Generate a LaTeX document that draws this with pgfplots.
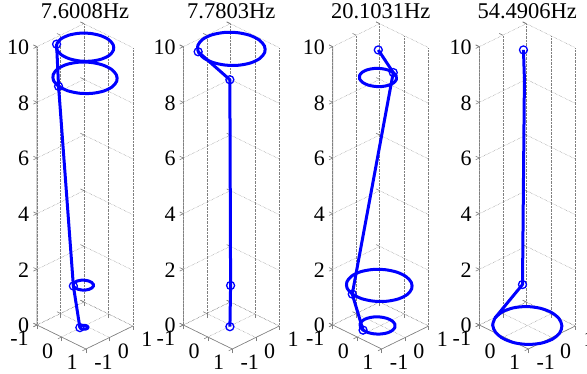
\documentclass[border=0pt]{standalone}
\usepackage{pgfplots}
\pgfplotsset{compat=1.18}
\usepackage{fontspec}
\setmainfont{Liberation Serif}
\definecolor{axgray}{RGB}{128,128,128}
\definecolor{mblue}{RGB}{0,0,255}
\pgfplotsset{
 modeax/.style={
   anchor=origin,
   x={(24.5pt,-12pt)}, y={(23.5pt,11.5pt)}, z={(0pt,27.83pt)},
   xmin=-1,xmax=1,ymin=-1,ymax=1,zmin=0,zmax=10,
   xtick={-1,0,1}, ytick={-1,0,1}, ztick={0,2,4,6,8,10},
   xticklabels={-1,0,1}, yticklabels={-1,0,1}, zticklabels={0,2,4,6,8,10},
   xtick pos=left, ytick pos=left, ztick pos=left,
   grid=major, major grid style={densely dotted, gray, line width=0.5pt},
   axis line style={draw=none},
   tick align=outside, major tick length=4pt, tick style={axgray, line width=0.6pt},
   tick label style={font=\fontsize{22}{24}\selectfont, inner sep=0pt},
   zticklabel style={anchor=east, xshift=-4pt, yshift=1pt},
   xticklabel style={anchor=north east, xshift=-4.5pt, yshift=-4.5pt},
   yticklabel style={anchor=north west, xshift=4.5pt, yshift=-4.5pt},
   title style={font=\fontsize{22.5}{26}\selectfont, anchor=base, yshift=-1pt},
   clip=false,
 },
 shp/.style={mblue, line width=3pt, no markers, line join=round},
 orb/.style={mblue, line width=3pt, smooth, no markers},
 nod/.style={mblue, only marks, mark=o, mark size=4pt, mark options={line width=1.3pt, solid}},
}
\newcommand{\axlines}{\draw[axgray, line width=0.6pt] (axis cs:-1,-1,10) -- (axis cs:-1,-1,0) -- (axis cs:1,-1,0) -- (axis cs:1,1,0);}
\begin{document}
\begin{tikzpicture}
\path[use as bounding box] (0,0) rectangle (587pt,-374pt);
% ---------- panel 1
\begin{axis}[modeax, at={(85pt,-325.5pt)}, title={7.6008Hz}]
\axlines
\addplot3[orb] coordinates {(-0.706,-0.473,10) (-0.473,-0.706,10) (-0.166,-0.834,10) (0.166,-0.834,10) (0.473,-0.706,10) (0.706,-0.473,10) (0.834,-0.166,10) (0.834,0.166,10) (0.706,0.473,10) (0.473,0.706,10) (0.166,0.834,10) (-0.166,0.834,10) (-0.473,0.706,10) (-0.706,0.473,10) (-0.834,0.166,10) (-0.834,-0.166,10) (-0.706,-0.473,10)};
\addplot3[orb] coordinates {(-0.185,-0.932,8.9) (0.185,-0.932,8.9) (0.528,-0.789,8.9) (0.789,-0.528,8.9) (0.932,-0.185,8.9) (0.932,0.185,8.9) (0.789,0.528,8.9) (0.528,0.789,8.9) (0.185,0.932,8.9) (-0.185,0.932,8.9) (-0.528,0.789,8.9) (-0.789,0.528,8.9) (-0.932,0.185,8.9) (-0.932,-0.185,8.9) (-0.789,-0.528,8.9) (-0.528,-0.789,8.9) (-0.185,-0.932,8.9)};
\addplot3[orb] coordinates {(-0.202,-0.284,1.45) (-0.094,-0.329,1.45) (0.024,-0.329,1.45) (0.132,-0.284,1.45) (0.214,-0.202,1.45) (0.259,-0.094,1.45) (0.259,0.024,1.45) (0.214,0.132,1.45) (0.132,0.214,1.45) (0.024,0.259,1.45) (-0.094,0.259,1.45) (-0.202,0.214,1.45) (-0.284,0.132,1.45) (-0.329,0.024,1.45) (-0.329,-0.094,1.45) (-0.284,-0.202,1.45) (-0.202,-0.284,1.45)};
\addplot3[orb] coordinates {(-0.017,-0.2,0) (0.027,-0.218,0) (0.073,-0.218,0) (0.117,-0.2,0) (0.15,-0.167,0) (0.168,-0.123,0) (0.168,-0.077,0) (0.15,-0.033,0) (0.117,0,0) (0.073,0.018,0) (0.027,0.018,0) (-0.017,0,0) (-0.05,-0.033,0) (-0.068,-0.077,0) (-0.068,-0.123,0) (-0.05,-0.167,0) (-0.017,-0.2,0)};
\addplot3[shp] coordinates {(-0.017,-0.2,0) (-0.202,-0.284,1.45) (-0.185,-0.932,8.9) (-0.706,-0.473,10)};
\addplot3[nod] coordinates {(-0.017,-0.2,0) (-0.202,-0.284,1.45) (-0.185,-0.932,8.9) (-0.706,-0.473,10)};
\end{axis}
% ---------- panel 2
\begin{axis}[modeax, at={(231.3pt,-325.5pt)}, title={7.7803Hz}]
\axlines
\addplot3[orb] coordinates {(-0.556,-0.831,9.94) (-0.195,-0.981,9.94) (0.195,-0.981,9.94) (0.556,-0.831,9.94) (0.831,-0.556,9.94) (0.981,-0.195,9.94) (0.981,0.195,9.94) (0.831,0.556,9.94) (0.556,0.831,9.94) (0.195,0.981,9.94) (-0.195,0.981,9.94) (-0.556,0.831,9.94) (-0.831,0.556,9.94) (-0.981,0.195,9.94) (-0.981,-0.195,9.94) (-0.831,-0.556,9.94) (-0.556,-0.831,9.94)};
\addplot3[shp] coordinates {(0.02,-0.08,0) (0,-0.03,1.45) (-0.03,-0.03,8.83) (-0.556,-0.831,9.94)};
\addplot3[nod] coordinates {(0.02,-0.08,0) (0,-0.03,1.45) (-0.03,-0.03,8.83) (-0.556,-0.831,9.94)};
\end{axis}
% ---------- panel 3
\begin{axis}[modeax, at={(380.7pt,-325.5pt)}, title={20.1031Hz}]
\axlines
\addplot3[orb] coordinates {(0.05,0.483,8.91) (-0.164,0.483,8.91) (-0.363,0.4,8.91) (-0.514,0.249,8.91) (-0.597,0.05,8.91) (-0.597,-0.164,8.91) (-0.514,-0.363,8.91) (-0.363,-0.514,8.91) (-0.164,-0.597,8.91) (0.05,-0.597,8.91) (0.249,-0.514,8.91) (0.4,-0.363,8.91) (0.483,-0.164,8.91) (0.483,0.05,8.91) (0.4,0.249,8.91) (0.249,0.4,8.91) (0.05,0.483,8.91)};
\addplot3[orb] coordinates {(-0.219,-0.982,1.44) (0.159,-0.982,1.44) (0.509,-0.836,1.44) (0.776,-0.569,1.44) (0.922,-0.219,1.44) (0.922,0.159,1.44) (0.776,0.509,1.44) (0.509,0.776,1.44) (0.159,0.922,1.44) (-0.219,0.922,1.44) (-0.569,0.776,1.44) (-0.836,0.509,1.44) (-0.982,0.159,1.44) (-0.982,-0.219,1.44) (-0.836,-0.569,1.44) (-0.569,-0.836,1.44) (-0.219,-0.982,1.44)};
\addplot3[orb] coordinates {(-0.167,-0.576,0) (0.035,-0.576,0) (0.223,-0.498,0) (0.366,-0.355,0) (0.444,-0.167,0) (0.444,0.035,0) (0.366,0.223,0) (0.223,0.366,0) (0.035,0.444,0) (-0.167,0.444,0) (-0.355,0.366,0) (-0.498,0.223,0) (-0.576,0.035,0) (-0.576,-0.167,0) (-0.498,-0.355,0) (-0.355,-0.498,0) (-0.167,-0.576,0)};
\addplot3[shp] coordinates {(-0.167,-0.576,0) (-0.219,-0.982,1.44) (0.05,0.483,8.91) (-0.05,-0.05,9.9)};
\addplot3[nod] coordinates {(-0.167,-0.576,0) (-0.219,-0.982,1.44) (0.05,0.483,8.91) (-0.05,-0.05,9.9)};
\end{axis}
% ---------- panel 4
\begin{axis}[modeax, at={(527.3pt,-325.5pt)}, title={54.4906Hz}]
\axlines
\addplot3[orb] coordinates {(-0.975,-0.357,0) (-0.721,-0.721,0) (-0.357,-0.975,0) (0.06,-1.08,0) (0.468,-1.021,0) (0.806,-0.806,0) (1.021,-0.468,0) (1.08,-0.06,0) (0.975,0.357,0) (0.721,0.721,0) (0.357,0.975,0) (-0.06,1.08,0) (-0.468,1.021,0) (-0.806,0.806,0) (-1.021,0.468,0) (-1.08,0.06,0) (-0.975,-0.357,0)};
\addplot3[shp] coordinates {(-0.975,-0.357,0) (-0.1,-0.1,1.47) (-0.06,-0.06,8.85) (-0.08,-0.08,9.9)};
\addplot3[nod] coordinates {(-0.1,-0.1,1.47) (-0.08,-0.08,9.9)};
\end{axis}
\end{tikzpicture}
\end{document}
